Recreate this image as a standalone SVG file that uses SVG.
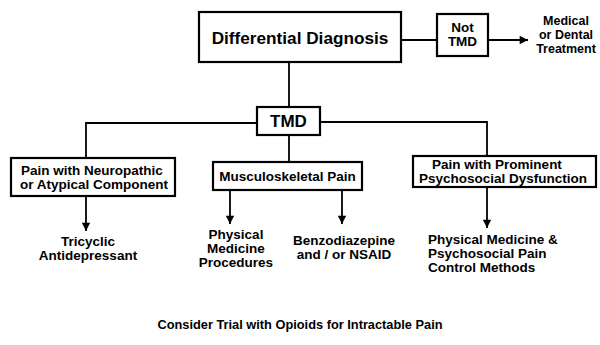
<svg xmlns="http://www.w3.org/2000/svg" width="600" height="345" viewBox="0 0 600 345">
<defs>
<marker id="ah" viewBox="0 0 10 12" refX="10" refY="6" markerWidth="11" markerHeight="10" markerUnits="userSpaceOnUse" orient="auto">
<path d="M0,1 L10,6 L0,11 z" fill="#000"/>
</marker>
<style>
.box{fill:#fff;stroke:#000;stroke-width:2.2}
.ln{fill:none;stroke:#000;stroke-width:1.8}
.t{font-family:"Liberation Sans",Arial,sans-serif;font-weight:bold;fill:#000}
.m{text-anchor:middle}
.s{font-size:13.5px}
</style>
</defs>
<rect width="600" height="345" fill="#fff"/>
<g id="connectors">
<line class="ln" x1="401" y1="40" x2="437" y2="40"/>
<line class="ln" x1="488" y1="40" x2="528" y2="40" marker-end="url(#ah)"/>
<line class="ln" x1="289" y1="62" x2="289" y2="107"/>
<polyline class="ln" points="257,123 86,123 86,158"/>
<polyline class="ln" points="320,122 487,122 487,156"/>
<line class="ln" x1="289" y1="135" x2="289" y2="162"/>
<line class="ln" x1="86" y1="196" x2="86" y2="231" marker-end="url(#ah)"/>
<line class="ln" x1="230" y1="190" x2="230" y2="224" marker-end="url(#ah)"/>
<line class="ln" x1="342" y1="190" x2="342" y2="224" marker-end="url(#ah)"/>
<line class="ln" x1="487" y1="187" x2="487" y2="228" marker-end="url(#ah)"/>
</g>
<g id="diff">
<rect class="box" x="199" y="12" width="202" height="50"/>
<text class="t m" x="300" y="44" font-size="17.2">Differential Diagnosis</text>
</g>
<g id="nottmd">
<rect class="box" x="437" y="14" width="51" height="42"/>
<text class="t m s" x="462.5" y="32">Not</text>
<text class="t m s" x="462.5" y="46">TMD</text>
</g>
<g id="medical">
<text class="t m" x="566" y="25" font-size="12.5">Medical</text>
<text class="t m" x="566" y="39" font-size="12.5">or Dental</text>
<text class="t m" x="566" y="53" font-size="12.5">Treatment</text>
</g>
<g id="tmd">
<rect class="box" x="257" y="107" width="63" height="28"/>
<text class="t m" x="288.5" y="127" font-size="17">TMD</text>
</g>
<g id="neuro">
<rect class="box" x="11" y="158" width="164" height="38"/>
<text class="t s" x="21" y="175">Pain with Neuropathic</text>
<text class="t s" x="20" y="189">or Atypical Component</text>
</g>
<g id="musculo">
<rect class="box" x="213" y="162" width="149" height="28"/>
<text class="t m s" x="287.5" y="181">Musculoskeletal Pain</text>
</g>
<g id="psycho">
<rect class="box" x="413" y="156" width="183" height="31"/>
<text class="t m s" x="497" y="169">Pain with Prominent</text>
<text class="t m s" x="503" y="183">Psychosocial Dysfunction</text>
</g>
<g id="tricyclic">
<text class="t m s" x="88" y="246">Tricyclic</text>
<text class="t m s" x="88" y="260">Antidepressant</text>
</g>
<g id="physmed">
<text class="t m s" x="236" y="239">Physical</text>
<text class="t m s" x="236" y="253">Medicine</text>
<text class="t m s" x="236" y="267">Procedures</text>
</g>
<g id="benzo">
<text class="t m s" x="344" y="245">Benzodiazepine</text>
<text class="t m s" x="344" y="259">and / or NSAID</text>
</g>
<g id="physpsy">
<text class="t s" x="428" y="244">Physical Medicine &amp;</text>
<text class="t s" x="428" y="258">Psychosocial Pain</text>
<text class="t s" x="428" y="272">Control Methods</text>
</g>
<g id="opioids">
<text class="t m" x="300" y="329" font-size="12.8">Consider Trial with Opioids for Intractable Pain</text>
</g>
</svg>
